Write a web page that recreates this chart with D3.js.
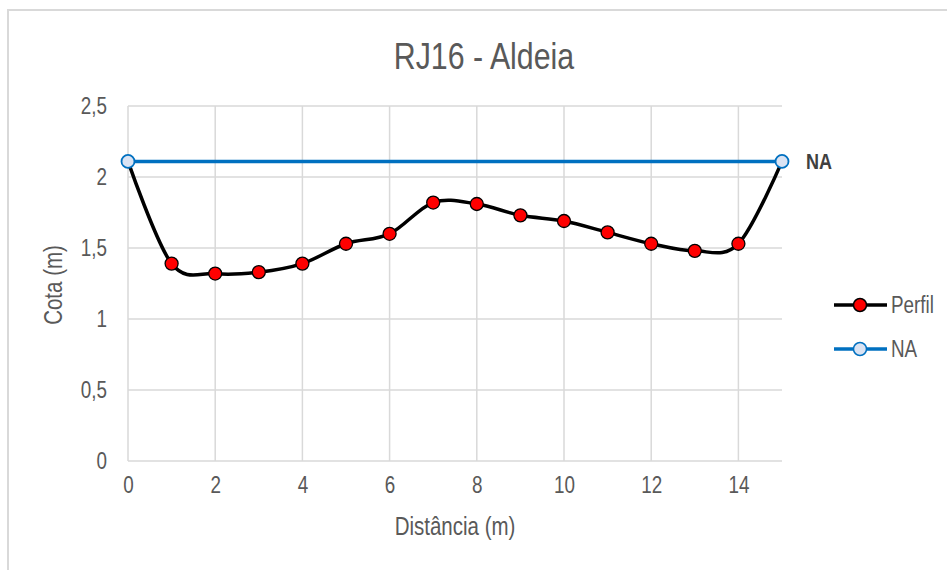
<!DOCTYPE html>
<html>
<head>
<meta charset="utf-8">
<script src="https://cdn.jsdelivr.net/npm/d3@7"></script>
<style>
  body { margin: 0; background: #fff; }
  svg { display: block; }
  text { font-family: "Liberation Sans", Arial, sans-serif; }
</style>
</head>
<body>
<svg></svg>
<script>
const distancia = [0, 1, 2, 3, 4, 5, 6, 7, 8, 9, 10, 11, 12, 13, 14, 15];
const cota = [2.11, 1.39, 1.32, 1.33, 1.39, 1.53, 1.60, 1.82, 1.81, 1.73, 1.69, 1.61, 1.53, 1.48, 1.53, 2.11];
const naX = [0, 15];
const naY = [2.11, 2.11];
const xTicks = [0, 2, 4, 6, 8, 10, 12, 14];
const yTicks = [0, 0.5, 1, 1.5, 2, 2.5];

// squeeze Liberation Sans so it looks like a narrow font
const SQ = 0.82;
function narrow(sel) {
	sel.each(function() {
		const t = d3.select(this);
		const x = +(t.attr("x") || 0);
		t.attr("x", x / SQ);
		const tr = t.attr("transform") || "";
		t.attr("transform", tr + " scale(" + SQ + ",1)");
	});
}

function renderChart() {
	const width = 947;
	const height = 570;

	const svg = d3.select("svg")
		.attr("width", width)
		.attr("height", height);

	// chart frame
	svg.append("rect")
		.attr("x", 8)
		.attr("y", 10)
		.attr("width", width + 20)
		.attr("height", height + 20)
		.attr("fill", "#fff")
		.attr("stroke", "#d9d9d9")
		.attr("stroke-width", 2);

	const xScale = d3.scaleLinear().domain([0, 15]).range([128, 782]);
	const yScale = d3.scaleLinear().domain([0, 2.5]).range([461, 106]);

	const fmt = d => String(d).replace(".", ",");

	// grid
	svg.append("g")
		.selectAll("line")
		.data(yTicks)
		.enter().append("line")
		.attr("x1", xScale(0))
		.attr("x2", xScale(15))
		.attr("y1", d => yScale(d))
		.attr("y2", d => yScale(d))
		.attr("stroke", "#d9d9d9")
		.attr("stroke-width", 1.5);

	svg.append("g")
		.selectAll("line")
		.data(xTicks)
		.enter().append("line")
		.attr("x1", d => xScale(d))
		.attr("x2", d => xScale(d))
		.attr("y1", yScale(0))
		.attr("y2", yScale(2.5))
		.attr("stroke", "#d9d9d9")
		.attr("stroke-width", 1.5);

	// axes (labels only)
	const yAxis = svg.append("g")
		.attr("transform", "translate(" + xScale(0) + ",0)")
		.call(d3.axisLeft(yScale).tickValues(yTicks).tickFormat(fmt).tickSize(0).tickPadding(21));
	yAxis.select(".domain").remove();

	const xAxis = svg.append("g")
		.attr("transform", "translate(0," + yScale(0) + ")")
		.call(d3.axisBottom(xScale).tickValues(xTicks).tickFormat(fmt).tickSize(0).tickPadding(16));
	xAxis.select(".domain").remove();

	svg.selectAll(".tick text")
		.attr("fill", "#595959")
		.style("font-size", "23px")
		.style("font-family", '"Liberation Sans", Arial, sans-serif')
		.call(narrow);

	// titles
	svg.append("text")
		.attr("x", 484)
		.attr("y", 69)
		.attr("text-anchor", "middle")
		.attr("fill", "#595959")
		.style("font-size", "37px")
		.text("RJ16 - Aldeia")
		.call(narrow);

	svg.append("text")
		.attr("x", xScale(7.5))
		.attr("y", 535)
		.attr("text-anchor", "middle")
		.attr("fill", "#595959")
		.style("font-size", "25px")
		.text("Distância (m)")
		.call(narrow);

	svg.append("text")
		.attr("transform", "translate(62,285) rotate(-90)")
		.attr("text-anchor", "middle")
		.attr("fill", "#595959")
		.style("font-size", "25px")
		.text("Cota (m)")
		.call(narrow);

	// Perfil
	const perfil = distancia.map((d, i) => [d, cota[i]]);
	const line = d3.line()
		.x(d => xScale(d[0]))
		.y(d => yScale(d[1]))
		.curve(d3.curveCatmullRom.alpha(0));

	svg.append("path")
		.datum(perfil)
		.attr("fill", "none")
		.attr("stroke", "#000")
		.attr("stroke-width", 3.5)
		.attr("d", line);

	svg.selectAll(".dot")
		.data(perfil.slice(1, -1))
		.enter().append("circle")
		.attr("class", "dot")
		.attr("cx", d => xScale(d[0]))
		.attr("cy", d => yScale(d[1]))
		.attr("r", 6.5)
		.attr("fill", "#ff0000")
		.attr("stroke", "#000")
		.attr("stroke-width", 1.3);

	// NA
	const na = naX.map((d, i) => [d, naY[i]]);
	svg.append("path")
		.datum(na)
		.attr("fill", "none")
		.attr("stroke", "#0070c0")
		.attr("stroke-width", 3.5)
		.attr("d", d3.line().x(d => xScale(d[0])).y(d => yScale(d[1])));

	svg.selectAll(".na-dot")
		.data(na)
		.enter().append("circle")
		.attr("class", "na-dot")
		.attr("cx", d => xScale(d[0]))
		.attr("cy", d => yScale(d[1]))
		.attr("r", 6.5)
		.attr("fill", "#dae3f3")
		.attr("stroke", "#0070c0")
		.attr("stroke-width", 1.8);

	svg.append("text")
		.attr("x", xScale(15) + 24)
		.attr("y", yScale(naY[1]) + 8)
		.attr("fill", "#404040")
		.style("font-size", "22px")
		.style("font-weight", "bold")
		.text("NA")
		.call(narrow);

	// legend
	const legend = [
		{ name: "Perfil", stroke: "#000", fill: "#ff0000", y: 305 },
		{ name: "NA", stroke: "#0070c0", fill: "#dae3f3", y: 349 },
	];
	const lg = svg.append("g").selectAll("g")
		.data(legend)
		.enter().append("g");
	lg.append("line")
		.attr("x1", 834).attr("x2", 887)
		.attr("y1", d => d.y).attr("y2", d => d.y)
		.attr("stroke", d => d.stroke)
		.attr("stroke-width", 3.5);
	lg.append("circle")
		.attr("cx", 860).attr("cy", d => d.y)
		.attr("r", 6.5)
		.attr("fill", d => d.fill)
		.attr("stroke", d => d.stroke)
		.attr("stroke-width", 1.5);
	lg.append("text")
		.attr("x", 891)
		.attr("y", d => d.y + 8)
		.attr("fill", "#595959")
		.style("font-size", "23px")
		.text(d => d.name)
		.call(narrow);
}

renderChart();
</script>
</body>
</html>
